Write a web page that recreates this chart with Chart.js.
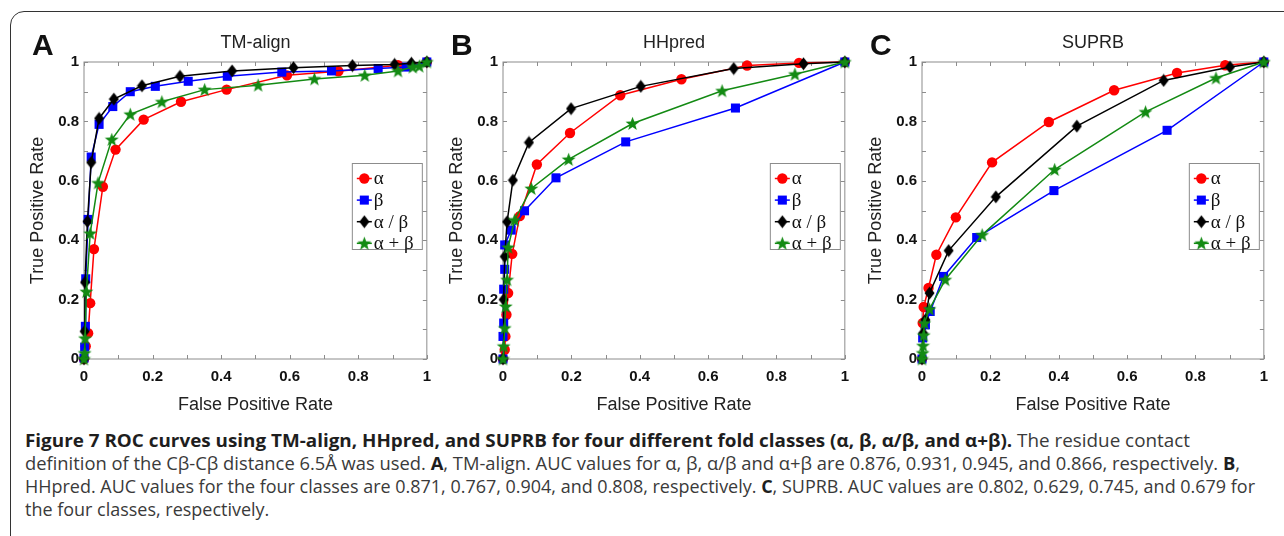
<!DOCTYPE html>
<html>
<head>
<meta charset="utf-8">
<script src="https://cdn.jsdelivr.net/npm/chart.js@4.4.1/dist/chart.umd.min.js"></script>
<style>
  html, body { margin: 0; padding: 0; background: #fff; }
  body { width: 1284px; height: 536px; position: relative; overflow: hidden; }
  #frame { position: absolute; left: 10px; top: 11px; width: 1400px; height: 700px;
           border: 1.5px solid #333; border-radius: 14px; }
  canvas { position: absolute; top: 0; }
  #caption { position: absolute; left: 25px; top: 429px; font-family: 'Open Sans', sans-serif;
             font-size: 18px; line-height: 23px; color: #3a3a3a; white-space: nowrap; }
  #caption div { width: max-content; transform-origin: 0 50%; }
  #caption b { color: #1e1e1e; }
</style>
</head>
<body>
<div id="frame"></div>
<canvas id="chartA" width="440" height="420" style="left:0px"></canvas>
<canvas id="chartB" width="439" height="420" style="left:419px"></canvas>
<canvas id="chartC" width="439" height="420" style="left:838px"></canvas>
<div id="caption">
  <div><b>Figure 7 ROC curves using TM-align, HHpred, and SUPRB for four different fold classes (α, β, α/β, and α+β).</b> The residue contact</div>
  <div>definition of the Cβ-Cβ distance 6.5Å was used. <b>A</b>, TM-align. AUC values for α, β, α/β and α+β are 0.876, 0.931, 0.945, and 0.866, respectively. <b>B</b>,</div>
  <div>HHpred. AUC values for the four classes are 0.871, 0.767, 0.904, and 0.808, respectively. <b>C</b>, SUPRB. AUC values are 0.802, 0.629, 0.745, and 0.679 for</div>
  <div>the four classes, respectively.</div>
</div>
<script>
// [false positive rate, true positive rate]
const tmAlpha = [[0,0],[0.005,0.043],[0.012,0.087],[0.018,0.188],[0.029,0.37],[0.055,0.58],[0.092,0.705],[0.174,0.806],[0.283,0.866],[0.416,0.907],[0.592,0.955],[0.742,0.969],[0.916,0.989],[1,1]];
const tmBeta = [[0,0.003],[0.002,0.04],[0.004,0.11],[0.005,0.27],[0.012,0.47],[0.021,0.68],[0.044,0.79],[0.084,0.85],[0.135,0.9],[0.208,0.918],[0.304,0.935],[0.418,0.952],[0.577,0.966],[0.722,0.97],[0.858,0.978],[0.94,0.983],[1,1]];
const tmAlphaBeta = [[0,0],[0.002,0.093],[0.003,0.258],[0.01,0.463],[0.021,0.662],[0.044,0.81],[0.087,0.875],[0.169,0.92],[0.28,0.952],[0.432,0.97],[0.611,0.981],[0.783,0.988],[0.906,0.992],[0.955,0.996],[1,1]];
const tmAlphaPlusBeta = [[0,0],[0.002,0.02],[0.003,0.07],[0.007,0.227],[0.018,0.423],[0.041,0.593],[0.081,0.739],[0.135,0.824],[0.227,0.866],[0.352,0.907],[0.508,0.922],[0.672,0.943],[0.819,0.955],[0.916,0.97],[0.959,0.983],[0.978,0.986],[1,1]];

const hhAlpha = [[0,0],[0.005,0.031],[0.007,0.076],[0.01,0.149],[0.015,0.222],[0.027,0.354],[0.049,0.481],[0.099,0.655],[0.196,0.761],[0.343,0.888],[0.522,0.942],[0.714,0.988],[0.866,0.997],[1,1]];
const hhBeta = [[0,0],[0,0.076],[0.002,0.121],[0.002,0.235],[0.005,0.302],[0.005,0.384],[0.024,0.434],[0.063,0.499],[0.155,0.61],[0.359,0.731],[0.68,0.845],[1,1]];
const hhAlphaBeta = [[0,0],[0.002,0.2],[0.005,0.345],[0.012,0.462],[0.029,0.602],[0.076,0.729],[0.199,0.843],[0.403,0.918],[0.675,0.978],[0.879,0.994],[1,1]];
const hhAlphaPlusBeta = [[0,0],[0.002,0.043],[0.005,0.104],[0.008,0.177],[0.012,0.267],[0.015,0.376],[0.034,0.468],[0.083,0.574],[0.192,0.672],[0.379,0.793],[0.641,0.903],[0.854,0.959],[1,1]];

const suAlpha = [[0,0],[0.002,0.121],[0.005,0.175],[0.019,0.239],[0.042,0.351],[0.099,0.477],[0.205,0.662],[0.371,0.798],[0.562,0.905],[0.746,0.963],[0.887,0.989],[1,1]];
const suBeta = [[0,0],[0.002,0.071],[0.01,0.115],[0.024,0.16],[0.063,0.278],[0.16,0.409],[0.386,0.567],[0.717,0.77],[1,1]];
const suAlphaBeta = [[0,0],[0.003,0.087],[0.01,0.132],[0.022,0.222],[0.078,0.365],[0.216,0.546],[0.453,0.784],[0.707,0.938],[0.901,0.983],[1,1]];
const suAlphaPlusBeta = [[0,0],[0.002,0.02],[0.003,0.045],[0.005,0.08],[0.007,0.121],[0.022,0.168],[0.068,0.267],[0.176,0.418],[0.388,0.638],[0.654,0.832],[0.86,0.946],[1,1]];

const seriesLabels = ['α', 'β', 'α / β', 'α + β'];
const tickLabels = ['0', '0.2', '0.4', '0.6', '0.8', '1'];

const RED = '#ff0000', BLUE = '#0000ff', BLACK = '#000000', GREEN = '#138a13';

function makeMarker(w, h, color, draw) {
  const c = document.createElement('canvas');
  c.width = w; c.height = h;
  const g = c.getContext('2d');
  g.fillStyle = color;
  g.beginPath();
  draw(g);
  g.closePath();
  g.fill();
  return c;
}
const diamond = makeMarker(11, 14, BLACK, g => {
  g.moveTo(5.5, 0.5); g.lineTo(10.5, 7); g.lineTo(5.5, 13.5); g.lineTo(0.5, 7);
});
const star = makeMarker(15, 15, GREEN, g => {
  for (let i = 0; i < 10; i++) {
    const r = i % 2 ? 3 : 7.3;
    const a = -Math.PI / 2 + i * Math.PI / 5;
    g.lineTo(7.5 + r * Math.cos(a), 8 + r * Math.sin(a));
  }
});

function series(points, i) {
  const styles = [
    { color: RED, pointStyle: 'circle', pointRadius: 5.2, order: 4 },
    { color: BLUE, pointStyle: 'rect', pointRadius: 6.4, order: 3 },
    { color: BLACK, pointStyle: diamond, pointRadius: 6, order: 2 },
    { color: GREEN, pointStyle: star, pointRadius: 7, order: 1 }
  ][i];
  return {
    label: seriesLabels[i],
    data: points.map(p => ({ x: p[0], y: p[1] })),
    borderColor: styles.color,
    backgroundColor: styles.color,
    pointBackgroundColor: styles.color,
    pointBorderColor: styles.color,
    pointBorderWidth: 0,
    pointStyle: styles.pointStyle,
    pointRadius: styles.pointRadius,
    borderWidth: 1.5,
    tension: 0,
    order: styles.order,
    clip: false
  };
}

function drawMarker(ctx, ds, x, y) {
  const st = ds.pointStyle;
  ctx.fillStyle = ds.borderColor;
  if (st === 'circle') {
    ctx.beginPath(); ctx.arc(x, y, ds.pointRadius, 0, Math.PI * 2); ctx.fill();
  } else if (st === 'rect') {
    const s = Math.SQRT1_2 * ds.pointRadius;
    ctx.fillRect(x - s, y - s, 2 * s, 2 * s);
  } else {
    ctx.drawImage(st, x - st.width / 2, y - st.height / 2);
  }
}

const matlabAxes = {
  id: 'matlabAxes',
  beforeDatasetsDraw(chart) {
    const { ctx, chartArea: a, scales: { x, y } } = chart;
    ctx.save();
    ctx.strokeStyle = '#8c8c8c';
    ctx.lineWidth = 1;
    ctx.strokeRect(a.left, a.top, a.right - a.left, a.bottom - a.top);
    ctx.beginPath();
    x.ticks.forEach(t => {
      const px = Math.round(x.getPixelForValue(t.value)) + 0.5;
      ctx.moveTo(px, a.bottom); ctx.lineTo(px, a.bottom - 4);
      ctx.moveTo(px, a.top); ctx.lineTo(px, a.top + 4);
    });
    y.ticks.forEach(t => {
      const py = Math.round(y.getPixelForValue(t.value)) + 0.5;
      ctx.moveTo(a.left, py); ctx.lineTo(a.left + 4, py);
      ctx.moveTo(a.right, py); ctx.lineTo(a.right - 4, py);
    });
    ctx.stroke();
    ctx.restore();
  },
  afterDraw(chart, args, opts) {
    const { ctx, chartArea: a } = chart;
    ctx.save();
    // panel letter and title
    ctx.fillStyle = '#111';
    ctx.font = 'bold 30px "Liberation Sans", Arial, sans-serif';
    ctx.textBaseline = 'alphabetic';
    ctx.textAlign = 'left';
    ctx.fillText(opts.letter, a.left - 52, a.top - 7);
    ctx.fillStyle = '#222';
    ctx.font = '18px "Liberation Sans", Arial, sans-serif';
    ctx.textAlign = 'center';
    ctx.textBaseline = 'middle';
    ctx.fillText(opts.title, (a.left + a.right) / 2, a.top - 19);
    // legend box
    const bw = 70, bh = 86;
    const bx = a.right - 5 - bw, by = a.top + 101;
    ctx.fillStyle = '#fff';
    ctx.fillRect(bx, by, bw, bh);
    ctx.strokeStyle = '#8c8c8c';
    ctx.lineWidth = 1;
    ctx.strokeRect(bx + 0.5, by + 0.5, bw, bh);
    ctx.textAlign = 'left';
    chart.data.datasets.forEach((ds, i) => {
      const cy = by + 15.5 + i * 21.6;
      ctx.strokeStyle = ds.borderColor;
      ctx.lineWidth = 1.5;
      ctx.beginPath(); ctx.moveTo(bx + 5, cy); ctx.lineTo(bx + 20, cy); ctx.stroke();
      drawMarker(ctx, ds, bx + 12.5, cy);
      ctx.fillStyle = '#111';
      ctx.font = '19px "Liberation Serif", serif';
      ctx.fillText(ds.label, bx + 22, cy + 1);
    });
    ctx.restore();
  }
};

function axisOptions(title, isX) {
  return {
    type: 'linear',
    min: 0,
    max: 1,
    afterFit: s => { if (isX) s.height = 61; else s.width = 84; },
    grid: { display: false, drawTicks: false },
    border: { display: false },
    ticks: {
      stepSize: 0.1,
      autoSkip: false,
      maxRotation: 0,
      padding: isX ? 9 : 5,
      color: '#111',
      font: { family: '"Liberation Sans", Arial, sans-serif', size: 15, weight: 'bold' },
      callback: (v, i) => (i % 2 === 0 ? tickLabels[i / 2] : '')
    },
    title: {
      display: true,
      text: title,
      color: '#222',
      font: { family: '"Liberation Sans", Arial, sans-serif', size: 18 },
      padding: isX ? { top: 0, bottom: 4 } : { top: 27, bottom: 0 }
    }
  };
}

function rocChart(id, letter, title, sets) {
  new Chart(document.getElementById(id), {
    type: 'line',
    data: { datasets: sets.map((s, i) => series(s, i)) },
    options: {
      responsive: false,
      animation: false,
      events: [],
      layout: { padding: { left: 0, right: 11, top: 62, bottom: 0 } },
      scales: {
        x: axisOptions('False Positive Rate', true),
        y: axisOptions('True Positive Rate', false)
      },
      plugins: {
        legend: { display: false },
        tooltip: { enabled: false },
        matlabAxes: { letter, title }
      }
    },
    plugins: [matlabAxes]
  });
}

rocChart('chartA', 'A', 'TM-align', [tmAlpha, tmBeta, tmAlphaBeta, tmAlphaPlusBeta]);
rocChart('chartB', 'B', 'HHpred', [hhAlpha, hhBeta, hhAlphaBeta, hhAlphaPlusBeta]);
rocChart('chartC', 'C', 'SUPRB', [suAlpha, suBeta, suAlphaBeta, suAlphaPlusBeta]);

// fit each caption line to the width it has in the reference
const captionLines = document.querySelectorAll('#caption div');
const lineEnds = [1190, 1240, 1255];
const widths = [...captionLines].map(l => l.getBoundingClientRect().width);
captionLines.forEach((l, i) => {
  const k = i < 3 ? (lineEnds[i] - 25) / widths[i] : (lineEnds[2] - 25) / widths[2];
  l.style.transform = 'scaleX(' + k + ')';
});
</script>
</body>
</html>
